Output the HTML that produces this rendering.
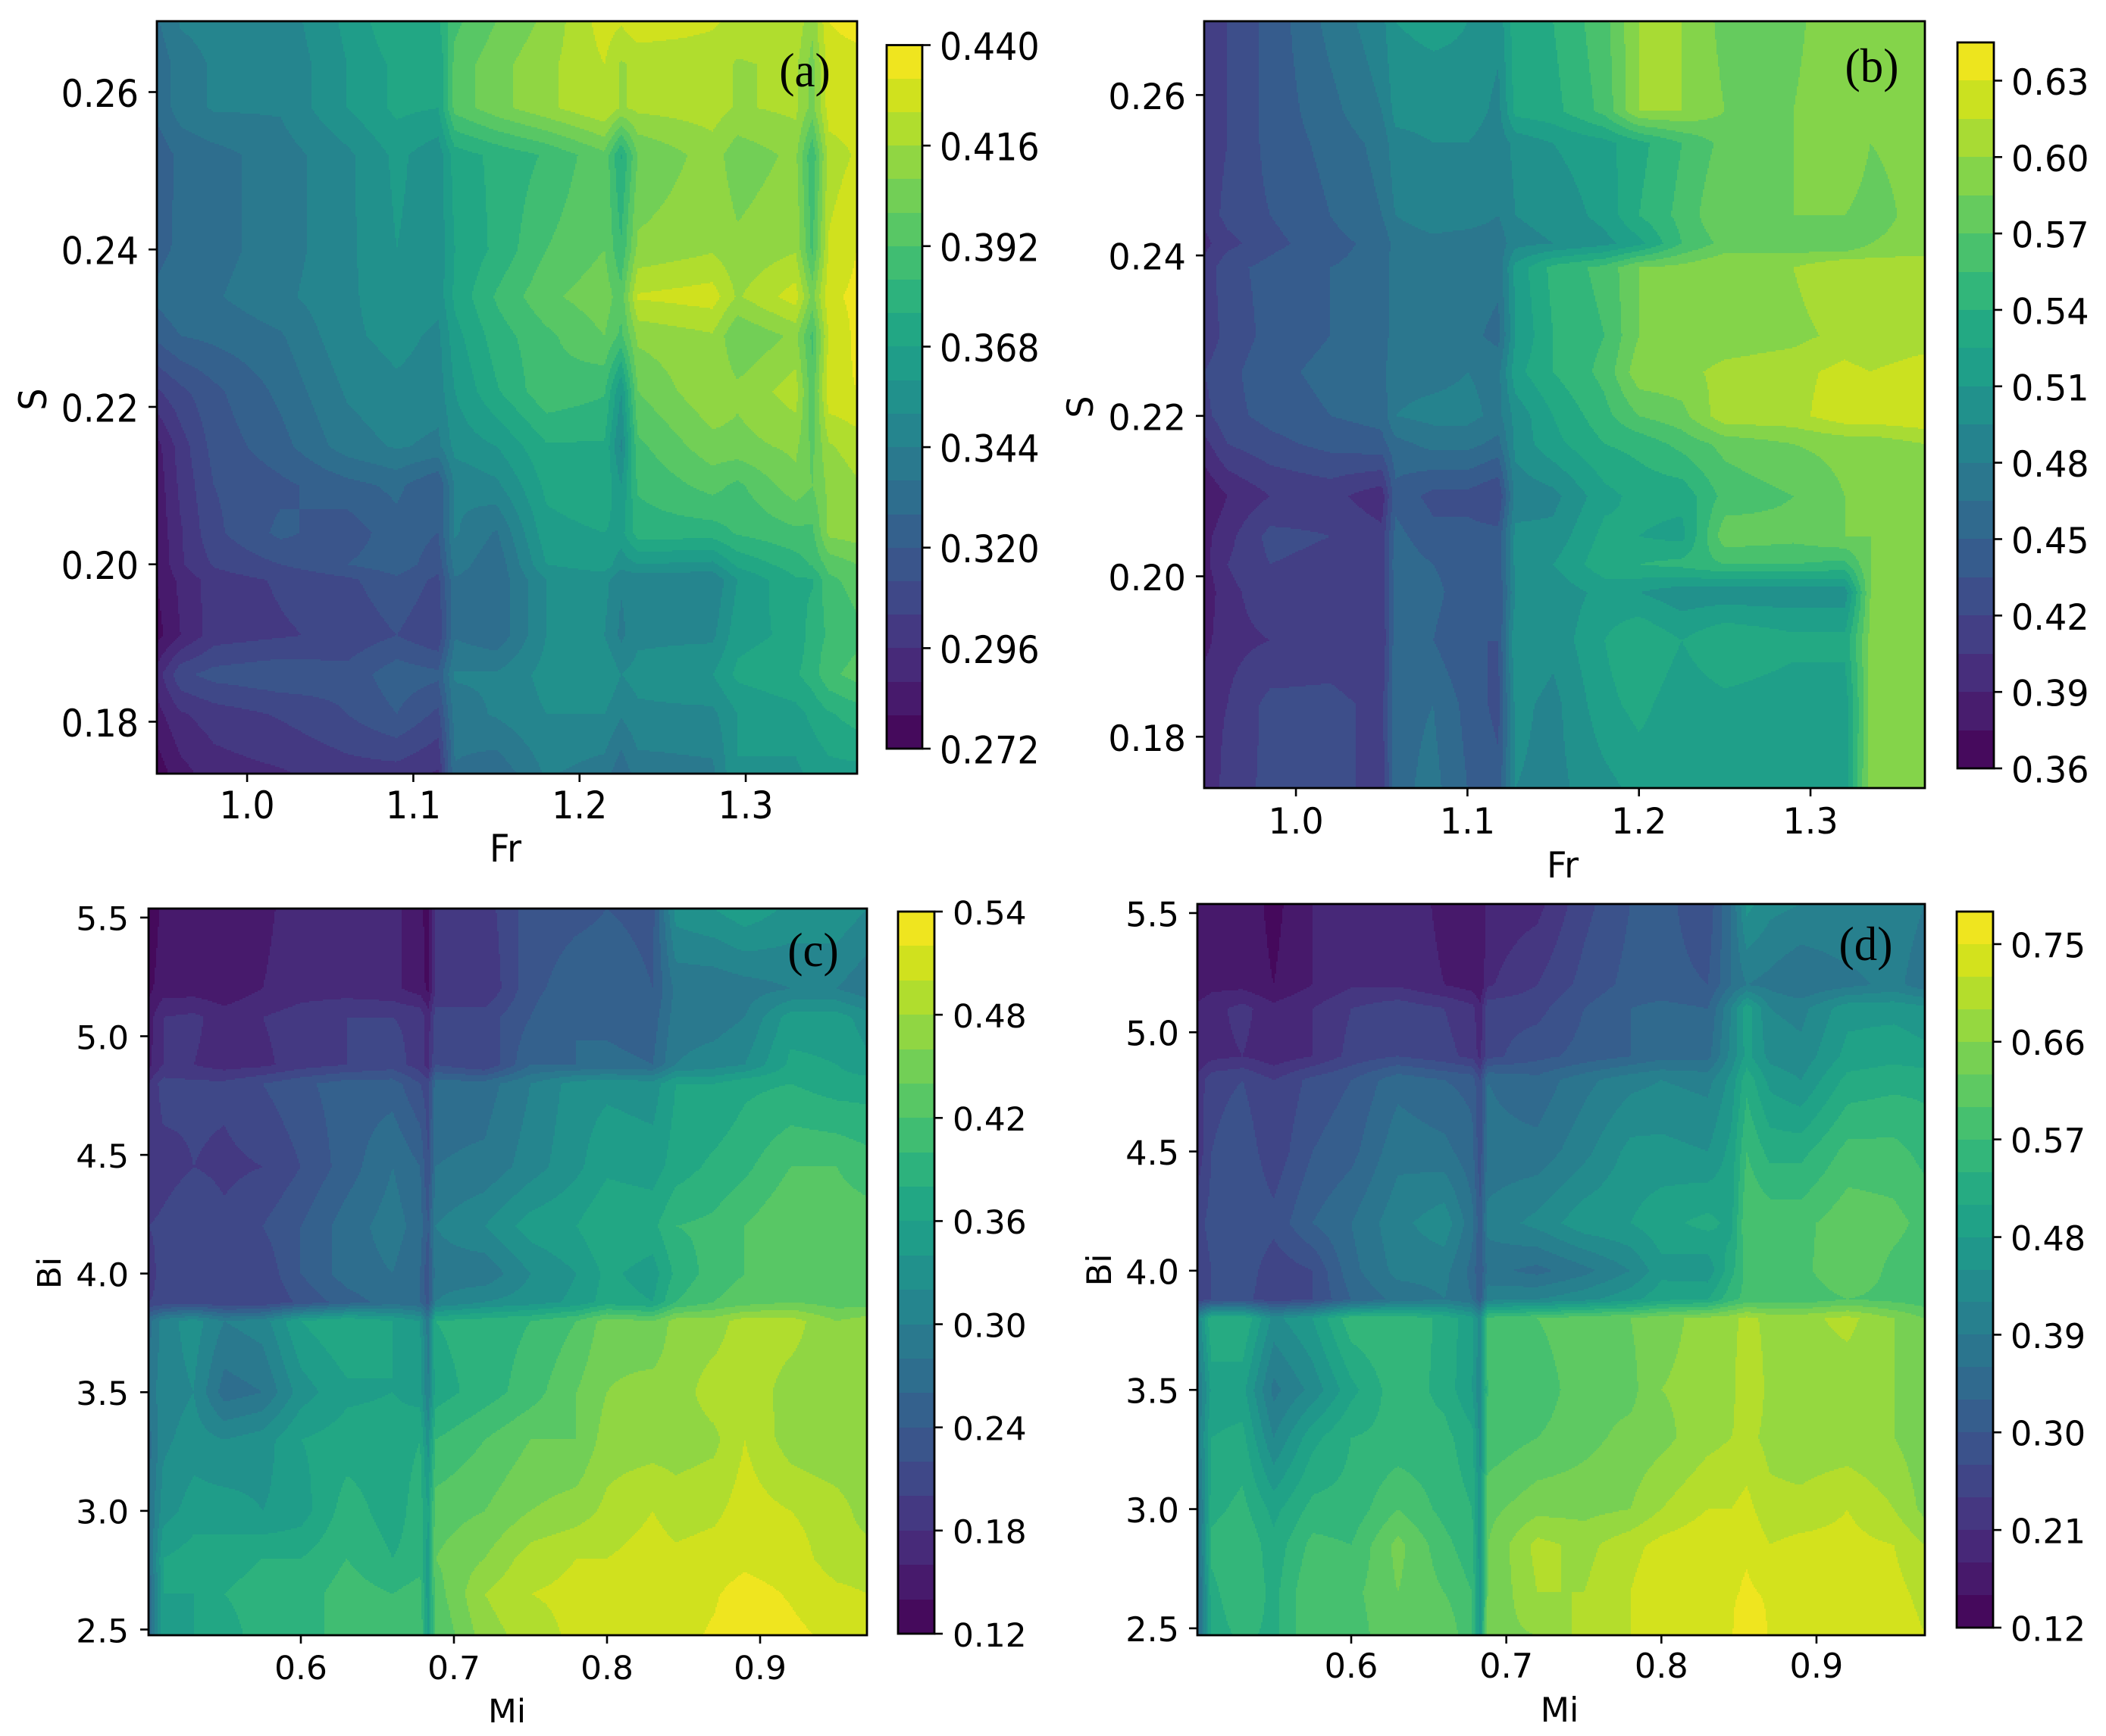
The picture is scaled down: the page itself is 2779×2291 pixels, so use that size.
<!DOCTYPE html>
<html lang="en">
<head>
<meta charset="utf-8">
<title>Contour maps (a)-(d)</title>
<style>
html,body{margin:0;padding:0;background:#fff;}
svg{display:block;}
text{font-family:"DejaVu Sans","Liberation Sans",sans-serif;fill:#000;}
text.panel-tag{font-family:"Liberation Serif",serif;}
</style>
</head>
<body>
<svg id="figure" xmlns="http://www.w3.org/2000/svg" width="2779" height="2291" viewBox="0 0 2779 2291">
  <rect x="0" y="0" width="2779" height="2291" fill="#ffffff"/>
  <g id="panel-a"></g>
  <g id="panel-b"></g>
  <g id="panel-c"></g>
  <g id="panel-d"></g>
</svg>
<script>
/* ---------- panel (a) data ---------- */
const aFr=[.9457,.96,.98,1.02,1.06,1.09,1.115,1.125,1.15,1.18,1.215,1.225,1.235,1.28,1.295,1.33,1.34,1.35,1.367];
const aS=[.269,.2635,.258,.252,.24,.234,.229,.222,.215,.21,.204,.2,.198,.191,.186,.181,.1734];
const aZ=[
[.335,.345,.347,.347,.362,.375,.375,.39,.40,.41,.428,.425,.43,.425,.422,.422,.41,.432,.436],
[.33,.34,.345,.345,.36,.37,.368,.395,.405,.414,.424,.415,.418,.42,.415,.418,.405,.428,.428],
[.33,.34,.345,.345,.36,.37,.368,.395,.405,.414,.424,.415,.418,.42,.415,.418,.405,.428,.428],
[.323,.33,.333,.34,.35,.362,.355,.372,.378,.385,.398,.375,.40,.412,.403,.41,.385,.42,.425],
[.325,.33,.333,.34,.35,.36,.355,.368,.378,.392,.40,.385,.41,.415,.41,.415,.39,.425,.432],
[.33,.335,.335,.342,.35,.358,.355,.37,.385,.398,.405,.395,.425,.428,.415,.428,.405,.43,.434],
[.322,.328,.33,.335,.35,.355,.35,.365,.38,.39,.40,.39,.41,.415,.40,.41,.39,.425,.434],
[.303,.31,.318,.33,.345,.35,.348,.36,.375,.39,.385,.36,.40,.415,.41,.42,.395,.43,.432],
[.285,.30,.315,.325,.34,.345,.342,.355,.36,.375,.375,.35,.39,.405,.405,.41,.398,.415,.42],
[.283,.298,.312,.318,.325,.33,.32,.345,.35,.37,.375,.36,.385,.395,.39,.405,.40,.41,.415],
[.282,.295,.31,.322,.315,.325,.32,.345,.335,.365,.368,.365,.38,.38,.385,.39,.39,.41,.412],
[.28,.295,.305,.312,.32,.325,.315,.34,.33,.36,.365,.355,.36,.358,.37,.38,.385,.395,.40],
[.28,.29,.30,.305,.31,.318,.31,.335,.33,.352,.355,.345,.346,.345,.36,.375,.375,.39,.395],
[.277,.288,.30,.303,.306,.312,.305,.335,.33,.352,.352,.342,.35,.35,.365,.37,.38,.385,.39],
[.292,.31,.315,.318,.315,.325,.322,.345,.345,.355,.36,.352,.355,.36,.37,.375,.38,.39,.395],
[.285,.295,.30,.305,.312,.32,.31,.34,.345,.352,.352,.345,.35,.35,.36,.365,.37,.375,.38],
[.275,.285,.292,.295,.30,.30,.295,.335,.33,.345,.34,.33,.34,.342,.36,.358,.362,.365,.365]
];
const aLevels=[.272,.28,.288,.296,.304,.312,.32,.328,.336,.344,.352,.36,.368,.376,.384,.392,.40,.408,.416,.424,.432,.44];
const aXTicks=["1.0","1.1","1.2","1.3"];
const aYTicks=["0.18","0.20","0.22","0.24","0.26"];
const aCbTicks=["0.272","0.296","0.320","0.344","0.368","0.392","0.416","0.440"];

/* ---------- panel (b) data ---------- */
const bFr=[.9465,.96,.985,1.02,1.05,1.058,1.08,1.1,1.118,1.128,1.15,1.18,1.2,1.225,1.25,1.29,1.32,1.335,1.3667];
const bS=[.2692,.258,.254,.245,.2415,.2385,.23,.2255,.22,.2165,.21,.205,.2015,.198,.192,.184,.1736];
const bZ=[
[.405,.42,.44,.47,.49,.51,.515,.51,.50,.535,.54,.565,.60,.60,.58,.58,.60,.595,.60],
[.405,.42,.44,.46,.48,.50,.50,.505,.49,.53,.535,.56,.60,.60,.585,.585,.60,.585,.60],
[.41,.42,.44,.455,.47,.49,.495,.495,.485,.50,.51,.52,.535,.555,.575,.585,.595,.585,.59],
[.41,.425,.435,.45,.465,.48,.49,.49,.48,.495,.50,.515,.54,.56,.585,.585,.585,.58,.59],
[.40,.415,.43,.445,.455,.47,.475,.47,.47,.49,.495,.505,.52,.555,.575,.575,.57,.585,.59],
[.41,.43,.44,.45,.455,.475,.48,.475,.47,.515,.545,.56,.585,.59,.60,.60,.615,.61,.61],
[.41,.425,.44,.45,.46,.47,.48,.47,.46,.51,.54,.555,.585,.585,.59,.595,.605,.60,.605],
[.42,.43,.445,.455,.46,.475,.475,.48,.475,.52,.54,.56,.595,.595,.605,.61,.62,.615,.625],
[.415,.43,.44,.45,.455,.48,.485,.485,.475,.50,.525,.55,.57,.58,.61,.61,.625,.625,.628],
[.40,.42,.43,.44,.445,.46,.47,.47,.46,.50,.52,.54,.545,.56,.575,.585,.59,.59,.60],
[.375,.39,.405,.41,.395,.445,.43,.43,.42,.485,.49,.52,.53,.53,.56,.57,.585,.585,.595],
[.385,.40,.425,.42,.41,.455,.44,.44,.44,.50,.50,.53,.525,.52,.58,.575,.585,.585,.60],
[.385,.405,.42,.415,.41,.46,.45,.44,.44,.50,.51,.535,.54,.545,.555,.555,.55,.585,.60],
[.38,.40,.415,.41,.41,.455,.455,.44,.435,.495,.50,.515,.51,.50,.50,.50,.50,.585,.60],
[.385,.40,.405,.41,.405,.46,.45,.435,.435,.51,.50,.525,.54,.525,.54,.53,.53,.59,.60],
[.40,.405,.425,.425,.415,.46,.465,.445,.43,.50,.49,.52,.53,.515,.52,.515,.515,.59,.60],
[.395,.41,.425,.43,.41,.46,.47,.45,.44,.495,.49,.505,.515,.515,.515,.515,.515,.595,.60]
];
const bLevels=[.36,.375,.39,.405,.42,.435,.45,.465,.48,.495,.51,.525,.54,.555,.57,.585,.60,.615,.63,.645];
const bXTicks=["1.0","1.1","1.2","1.3"];
const bYTicks=["0.18","0.20","0.22","0.24","0.26"];
const bCbTicks=["0.36","0.39","0.42","0.45","0.48","0.51","0.54","0.57","0.60","0.63"];

/* ---------- panel (c) data ---------- */
const cMi=[.5005,.51,.53,.55,.575,.6,.63,.66,.678,.683,.688,.72,.75,.78,.8,.83,.845,.87,.89,.92,.95,.9698];
const cBi=[5.538,5.2,5.08,4.88,4.8,4.45,4.2,4.0,3.88,3.8,3.5,3.3,3.0,2.8,2.65,2.476];
const cZ=[
[.125,.145,.15,.145,.155,.17,.17,.165,.15,.125,.19,.19,.23,.235,.24,.235,.33,.34,.355,.335,.335,.32],
[.135,.15,.15,.145,.16,.17,.17,.165,.15,.135,.18,.18,.235,.25,.25,.24,.285,.285,.29,.30,.30,.285],
[.15,.18,.185,.17,.18,.19,.20,.20,.195,.17,.21,.21,.24,.26,.255,.25,.29,.29,.30,.35,.35,.33],
[.155,.18,.18,.17,.175,.19,.20,.21,.19,.17,.22,.20,.26,.26,.265,.26,.30,.31,.32,.365,.36,.345],
[.18,.21,.205,.205,.22,.235,.25,.25,.22,.21,.27,.27,.30,.33,.335,.33,.36,.36,.375,.38,.37,.37],
[.18,.19,.20,.195,.20,.22,.25,.28,.26,.22,.28,.285,.31,.335,.355,.35,.37,.385,.395,.42,.42,.41],
[.20,.205,.22,.205,.22,.24,.27,.29,.27,.24,.30,.32,.35,.36,.38,.375,.40,.405,.42,.44,.43,.43],
[.19,.21,.215,.21,.205,.24,.27,.28,.26,.225,.29,.285,.32,.34,.365,.35,.385,.41,.42,.44,.43,.43],
[.20,.205,.21,.20,.20,.225,.25,.27,.26,.23,.30,.32,.33,.345,.37,.36,.40,.42,.43,.44,.43,.43],
[.27,.31,.33,.30,.31,.36,.38,.36,.34,.29,.38,.39,.40,.42,.45,.44,.47,.47,.49,.49,.46,.47],
[.29,.31,.32,.27,.28,.33,.355,.36,.35,.30,.37,.39,.41,.44,.46,.47,.47,.49,.495,.47,.47,.465],
[.27,.315,.33,.32,.33,.36,.37,.37,.38,.33,.40,.42,.44,.44,.47,.47,.47,.475,.50,.47,.46,.46],
[.28,.33,.35,.35,.34,.35,.39,.37,.39,.36,.43,.44,.46,.47,.485,.50,.49,.495,.51,.50,.49,.47],
[.27,.36,.37,.37,.38,.38,.40,.38,.39,.35,.44,.46,.49,.50,.50,.51,.505,.51,.515,.51,.49,.49],
[.26,.36,.36,.38,.39,.39,.41,.40,.41,.35,.43,.48,.50,.505,.51,.515,.515,.518,.528,.518,.505,.50],
[.26,.35,.36,.37,.39,.39,.41,.42,.42,.35,.42,.47,.49,.505,.515,.518,.515,.522,.535,.525,.515,.51]
];
const cLevels=[.12,.14,.16,.18,.20,.22,.24,.26,.28,.30,.32,.34,.36,.38,.40,.42,.44,.46,.48,.50,.52,.54];
const cXTicks=["0.6","0.7","0.8","0.9"];
const cYTicks=["2.5","3.0","3.5","4.0","4.5","5.0","5.5"];
const cCbTicks=["0.12","0.18","0.24","0.30","0.36","0.42","0.48","0.54"];

/* ---------- panel (d) data ---------- */
const dMi=[.5008,.51,.53,.55,.575,.6,.63,.66,.678,.683,.688,.72,.75,.78,.8,.83,.845,.855,.87,.89,.92,.95,.9699];
const dBi=[5.538,5.2,5.1,4.9,4.8,4.5,4.2,4.0,3.88,3.8,3.5,3.3,3.0,2.85,2.65,2.471];
const dZ=[
[.15,.16,.17,.14,.18,.205,.205,.17,.16,.15,.19,.20,.26,.30,.31,.28,.36,.46,.43,.42,.42,.41,.39],
[.155,.17,.17,.15,.18,.205,.205,.18,.165,.15,.205,.24,.28,.31,.31,.30,.36,.39,.38,.36,.38,.40,.37],
[.19,.20,.22,.19,.21,.24,.26,.24,.22,.19,.26,.26,.30,.33,.34,.33,.42,.50,.42,.41,.47,.47,.46],
[.18,.20,.21,.19,.21,.25,.27,.25,.23,.20,.26,.29,.31,.33,.35,.35,.43,.49,.44,.43,.49,.50,.49],
[.22,.26,.27,.24,.28,.30,.35,.33,.32,.27,.36,.34,.38,.41,.42,.41,.46,.53,.47,.45,.52,.53,.53],
[.22,.27,.29,.25,.30,.32,.38,.37,.34,.28,.37,.37,.41,.46,.46,.45,.49,.57,.53,.53,.58,.58,.56],
[.26,.28,.30,.28,.33,.36,.41,.44,.37,.31,.40,.43,.47,.48,.50,.52,.50,.60,.59,.59,.62,.61,.59],
[.25,.27,.29,.25,.27,.35,.40,.40,.35,.30,.37,.35,.38,.42,.47,.46,.53,.58,.59,.59,.63,.59,.58],
[.25,.27,.28,.25,.27,.33,.37,.39,.36,.31,.41,.42,.44,.47,.50,.51,.56,.58,.58,.58,.60,.59,.58],
[.42,.54,.54,.44,.48,.56,.57,.53,.49,.44,.58,.60,.62,.63,.65,.67,.68,.70,.68,.68,.70,.66,.63],
[.38,.49,.49,.38,.43,.50,.56,.53,.48,.42,.57,.58,.62,.62,.66,.67,.68,.72,.68,.67,.67,.66,.63],
[.40,.51,.52,.42,.50,.54,.55,.55,.52,.44,.58,.60,.62,.64,.65,.68,.69,.70,.68,.67,.67,.66,.64],
[.35,.53,.55,.50,.55,.55,.60,.56,.54,.46,.62,.65,.65,.66,.69,.72,.72,.73,.70,.70,.72,.69,.65],
[.35,.55,.57,.52,.58,.57,.64,.58,.55,.46,.63,.70,.68,.71,.73,.745,.74,.745,.72,.73,.73,.72,.69],
[.33,.53,.57,.53,.60,.59,.63,.60,.57,.47,.63,.69,.69,.72,.745,.745,.745,.755,.745,.74,.745,.73,.71],
[.33,.52,.55,.53,.60,.58,.63,.63,.57,.47,.65,.66,.70,.72,.745,.745,.745,.79,.745,.745,.745,.74,.72]
];
const dLevels=[.12,.15,.18,.21,.24,.27,.30,.33,.36,.39,.42,.45,.48,.51,.54,.57,.60,.63,.66,.69,.72,.75,.78];
const dXTicks=["0.6","0.7","0.8","0.9"];
const dYTicks=["2.5","3.0","3.5","4.0","4.5","5.0","5.5"];
const dCbTicks=["0.12","0.21","0.30","0.39","0.48","0.57","0.66","0.75"];

/* ---------- colormap ---------- */
const viridisStops=["#440154","#471365","#482475","#463480","#414487","#3b528b","#355f8d","#2f6c8e","#2a788e","#25848e","#21918c","#1f9e89","#22a884","#2fb47c","#44bf70","#5ec962","#7ad151","#9bd93c","#bddf26","#dfe318","#fde725"];
function viridis(t){
  const f=Math.max(0,Math.min(1,t))*(viridisStops.length-1);
  const i=Math.min(viridisStops.length-2,Math.floor(f));
  const u=f-i;
  const parse=h=>[1,3,5].map(k=>parseInt(h.substr(k,2),16));
  const a=parse(viridisStops[i]),b=parse(viridisStops[i+1]);
  return "rgb("+a.map((v,k)=>Math.round(v+(b[k]-v)*u)).join(",")+")";
}

/* ---------- drawing helpers ---------- */
const NS="http://www.w3.org/2000/svg";
function mk(tag,attrs,parent){
  const e=document.createElementNS(NS,tag);
  for(const k in attrs){e.setAttribute(k,attrs[k]);}
  parent.appendChild(e);
  return e;
}
function label(parent,str,x,y,size,sx,anchor,rot){
  const tr="translate("+x+","+y+")"+(rot?" rotate(-90)":"")+" scale("+sx+",1)";
  const t=mk("text",{transform:tr,"font-size":size,"text-anchor":anchor},parent);
  t.textContent=str;
  return t;
}
function locate(arr,v){
  const asc=arr[arr.length-1]>arr[0];
  for(let i=0;i<arr.length-1;i++){
    const a=arr[i],b=arr[i+1];
    if(asc? v<=b : v>=b){
      return [i,Math.max(0,Math.min(1,(v-a)/(b-a)))];
    }
  }
  return [arr.length-2,1];
}
function bandOf(levels,v){
  for(let k=0;k<levels.length-1;k++){ if(v+1e-9<levels[k+1]) return k; }
  return levels.length-2;
}

function drawPanel(g,cfg,xs,ys,zGrid,levels,xTicks,yTicks,cbTicks){
  /* axis functions */
  const xMin=xs[0],xMax=xs[xs.length-1],yMax=ys[0],yMin=ys[ys.length-1];
  const sx=v=>cfg.left+(v-xMin)/(xMax-xMin)*(cfg.right-cfg.left);
  const sy=v=>cfg.bottom-(v-yMin)/(yMax-yMin)*(cfg.bottom-cfg.top);
  const ix=p=>xMin+(p-cfg.left)/(cfg.right-cfg.left)*(xMax-xMin);
  const iy=p=>yMin+(cfg.bottom-p)/(cfg.bottom-cfg.top)*(yMax-yMin);
  const cbMin=levels[0],cbMax=levels[levels.length-1];
  const sc=v=>cfg.cbBottom-(v-cbMin)/(cbMax-cbMin)*(cfg.cbBottom-cfg.cbTop);
  const color=k=>viridis((k+.5)/(levels.length-1));

  /* filled contour bands, sampled from the grid through the axes */
  const field=mk("g",{"shape-rendering":"crispEdges"},g);
  
  
  const paths=levels.slice(1).map(()=>[]);
  const step=2;
  for(let py=cfg.top;py<cfg.bottom;py+=step){
    const [r,ru]=locate(ys,iy(py+step/2));
    let runStart=cfg.left,runBand=-1;
    for(let px=cfg.left;;px+=step){
      const atEnd=px>=cfg.right;
      let band=-2;
      if(!atEnd){
        const [c,cu]=locate(xs,ix(px+step/2));
        const v=(1-ru)*((1-cu)*zGrid[r][c]+cu*zGrid[r][c+1])+ru*((1-cu)*zGrid[r+1][c]+cu*zGrid[r+1][c+1]);
        band=bandOf(levels,v);
      }
      if(band!==runBand){
        if(runBand>=0){
          const endX=Math.min(px,cfg.right);
          paths[runBand].push("M"+runStart+" "+py+"h"+(endX-runStart)+"v"+step+"h"+(runStart-endX)+"z");
        }
        runStart=px;runBand=band;
      }
      if(atEnd)break;
    }
  }
  const chunk=48;
  paths.forEach((segs,k)=>{
    for(let i=0;i<segs.length;i+=chunk){
      const p=mk("path",{d:segs.slice(i,i+chunk).join(""),fill:color(k)},field);
      
      
    }
  });

  /* axes frame */
  const frame=mk("rect",{x:cfg.left,y:cfg.top,width:cfg.right-cfg.left,height:cfg.bottom-cfg.top,fill:"none",stroke:"#000","stroke-width":2.8},g);
  
  

  /* x ticks */
  xTicks.forEach(s=>{
    const x=sx(parseFloat(s));
    const tick=mk("line",{x1:x,x2:x,y1:cfg.bottom,y2:cfg.bottom+11,stroke:"#000","stroke-width":2.6},g);
    
    
    const t=label(g,s,x,cfg.xLabelY,cfg.font,cfg.fontX,"middle",false);
    
    
  });

  /* y ticks */
  yTicks.forEach(s=>{
    const y=sy(parseFloat(s));
    const tick=mk("line",{x1:cfg.left-11,x2:cfg.left,y1:y,y2:y,stroke:"#000","stroke-width":2.6},g);
    
    
    const t=label(g,s,cfg.yLabelX,y+cfg.font*.39,cfg.font,cfg.fontX,"end",false);
    
    
  });

  /* axis titles */
  const xt=label(g,cfg.xTitle,cfg.xTitleX,cfg.xTitleY,cfg.font,cfg.fontX,"middle",false);
  
  
  const yt=label(g,cfg.yTitle,cfg.yTitleX,cfg.yTitleY,cfg.font,cfg.fontX,"middle",true);
  
  

  /* panel tag */
  const tag=label(g,cfg.tag,cfg.tagX,cfg.tagY,64,.95,"middle",false);
  tag.setAttribute("class","panel-tag");
  
  

  /* colorbar */
  const bar=mk("g",{"shape-rendering":"crispEdges"},g);
  
  
  for(let k=0;k<levels.length-1;k++){
    const y1=Math.round(sc(levels[k+1])),y2=Math.round(sc(levels[k]));
    const seg=mk("rect",{x:cfg.cbLeft,y:y1,width:cfg.cbRight-cfg.cbLeft,height:y2-y1,fill:color(k)},bar);
    
    
  }
  const cbFrame=mk("rect",{x:cfg.cbLeft,y:cfg.cbTop,width:cfg.cbRight-cfg.cbLeft,height:cfg.cbBottom-cfg.cbTop,fill:"none",stroke:"#000","stroke-width":2.8},g);
  
  
  cbTicks.forEach(s=>{
    const y=sc(parseFloat(s));
    const tick=mk("line",{x1:cfg.cbRight,x2:cfg.cbRight+11,y1:y,y2:y,stroke:"#000","stroke-width":2.6},g);
    
    
    const t=label(g,s,cfg.cbLabelX,y+cfg.font*.39,cfg.font,cfg.fontX,"start",false);
    
    
  });
}

/* ---------- panel layout ---------- */
const layoutA={left:207,right:1131,top:28,bottom:1021,cbLeft:1170,cbRight:1217,cbTop:59.5,cbBottom:988,font:50,fontX:.92,xLabelY:1080,yLabelX:183,cbLabelX:1240,xTitle:"Fr",xTitleX:667,xTitleY:1137,yTitle:"S",yTitleX:61,yTitleY:527,tag:"(a)",tagX:1062,tagY:114};
const layoutB={left:1589,right:2540,top:28,bottom:1040,cbLeft:2583,cbRight:2631,cbTop:56,cbBottom:1014,font:47.5,fontX:.97,xLabelY:1100,yLabelX:1565,cbLabelX:2654,xTitle:"Fr",xTitleX:2062,xTitleY:1158,yTitle:"S",yTitleX:1442,yTitleY:537,tag:"(b)",tagX:2470,tagY:108};
const layoutC={left:196,right:1144,top:1199,bottom:2158,cbLeft:1185,cbRight:1233,cbTop:1203,cbBottom:2156,font:43,fontX:1.02,xLabelY:2216,yLabelX:170,cbLabelX:1257,xTitle:"Mi",xTitleX:669,xTitleY:2273,yTitle:"Bi",yTitleX:80,yTitleY:1680,tag:"(c)",tagX:1073,tagY:1275};
const layoutD={left:1580,right:2540,top:1193,bottom:2158,cbLeft:2582,cbRight:2630,cbTop:1203,cbBottom:2148,font:44.5,fontX:1,xLabelY:2214,yLabelX:1556,cbLabelX:2653,xTitle:"Mi",xTitleX:2058,xTitleY:2272,yTitle:"Bi",yTitleX:1466,yTitleY:1676,tag:"(d)",tagX:2462,tagY:1267};

drawPanel(document.getElementById("panel-a"),layoutA,aFr,aS,aZ,aLevels,aXTicks,aYTicks,aCbTicks);
drawPanel(document.getElementById("panel-b"),layoutB,bFr,bS,bZ,bLevels,bXTicks,bYTicks,bCbTicks);
drawPanel(document.getElementById("panel-c"),layoutC,cMi,cBi,cZ,cLevels,cXTicks,cYTicks,cCbTicks);
drawPanel(document.getElementById("panel-d"),layoutD,dMi,dBi,dZ,dLevels,dXTicks,dYTicks,dCbTicks);
</script>
</body>
</html>
